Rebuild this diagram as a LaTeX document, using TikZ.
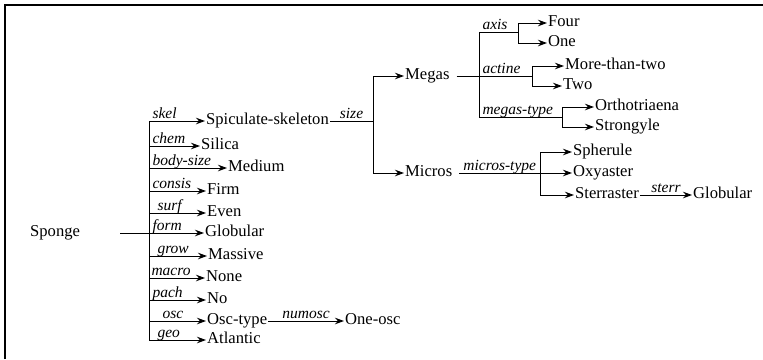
\documentclass[tikz,border=0pt]{standalone}
\usepackage{fontspec}
\setmainfont{Liberation Serif}
\usetikzlibrary{arrows.meta}

\begin{document}
\begin{tikzpicture}[x=1pt,y=-1pt,every node/.style={font=\fontsize{16.6}{19}\selectfont},val/.style={anchor=west,inner sep=1pt,text height=11pt,text depth=3.5pt},lbl/.style={font=\fontsize{15.5}{18}\selectfont\itshape,inner sep=0pt},side/.style={lbl,pos=.5,anchor=base west,xshift=3pt,yshift=2.5pt},over/.style={lbl,anchor=base,yshift=2.5pt},arrow/.style={-{Stealth[length=9pt,width=6.5pt]},line width=1pt},link/.style={line width=1pt}]
\useasboundingbox(0,0)rectangle(763,359);
\draw[line width=1.3pt](5,359)--(5,5)--(763,5);
% root and its attributes
\node[val](sponge) at (29,233){Sponge};
\coordinate(trunk) at (149,233);
\node[val](spic) at (205,121){Spiculate-skeleton};
\node[val](silica) at (200,146){Silica};
\node[val](medium) at (227,168){Medium};
\node[val](firm) at (206,191){Firm};
\node[val](even) at (206,213){Even};
\node[val](globular) at (204,233){Globular};
\node[val](massive) at (207,256){Massive};
\node[val](none) at (205,278){None};
\node[val](no) at (206,300){No};
\node[val](osctype) at (206,321){Osc-type};
\node[val](atlantic) at (206,340){Atlantic};
\node[val](oneosc) at (344,321){One-osc};
\draw[link]([xshift=39pt]sponge.east)--(trunk);
\draw[arrow](trunk)|-node[side]{skel}(spic);\draw[arrow](trunk)|-node[side]{chem}(silica);\draw[arrow](trunk)|-node[side]{body-size}(medium);\draw[arrow](trunk)|-node[side]{consis}(firm);\draw[arrow](trunk)|-node[side,xshift=5pt]{surf}(even);\draw[arrow](trunk)|-node[side]{form}(globular);
\draw[arrow](trunk)|-node[side,xshift=5pt]{grow}(massive);\draw[arrow](trunk)|-node[side,xshift=-1pt]{macro}(none);\draw[arrow](trunk)|-node[side]{pach}(no);\draw[arrow](trunk)|-node[side,xshift=10pt]{osc}(osctype);\draw[arrow](trunk)|-node[side,xshift=5pt]{geo}(atlantic);
\draw[arrow](osctype.east)--node[over]{numosc}(oneosc);
% size branch
\coordinate(sz) at (373,121);
\node[val](megas) at (404,76){Megas};
\node[val](micros) at (404,173){Micros};
\draw[link](spic.east)--node[over]{size}(sz);
\draw[arrow](sz)|-(megas);\draw[arrow](sz)|-(micros);
% megas
\coordinate(mj) at (479,76);
\coordinate(ax) at (518,32);
\coordinate(ac) at (532,76);
\coordinate(mt) at (562,117);
\node[val](four) at (547,23){Four};
\node[val](one) at (547,43){One};
\node[val](morethan) at (564,66){More-than-two};
\node[val](two) at (562,86){Two};
\node[val](ortho) at (594,107){Orthotriaena};
\node[val](strongyle) at (594,127){Strongyle};
\draw[link]([xshift=6pt]megas.east)--(mj);
\draw[link](mj)|-node[side]{axis}(ax);\draw[link](mj)--node[side,pos=0]{actine}(ac);\draw[link](mj)|-node[side]{megas-type}(mt);
\draw[arrow](ax)|-(four);\draw[arrow](ax)|-(one);\draw[arrow](ac)|-(morethan);\draw[arrow](ac)|-(two);\draw[arrow](mt)|-(ortho);\draw[arrow](mt)|-(strongyle);
% micros
\coordinate(mi) at (540,173);
\node[val](spherule) at (572,152){Spherule};
\node[val](oxyaster) at (572,173){Oxyaster};
\node[val](sterraster) at (574,195){Sterraster};
\node[val](globb) at (692,195){Globular};
\draw[link]([xshift=6pt]micros.east)--node[over]{micros-type}(mi);
\draw[arrow](mi)|-(spherule);\draw[arrow](mi)--(oxyaster);\draw[arrow](mi)|-(sterraster);
\draw[arrow](sterraster.east)--node[over]{sterr}(globb);
\end{tikzpicture}
\end{document}
